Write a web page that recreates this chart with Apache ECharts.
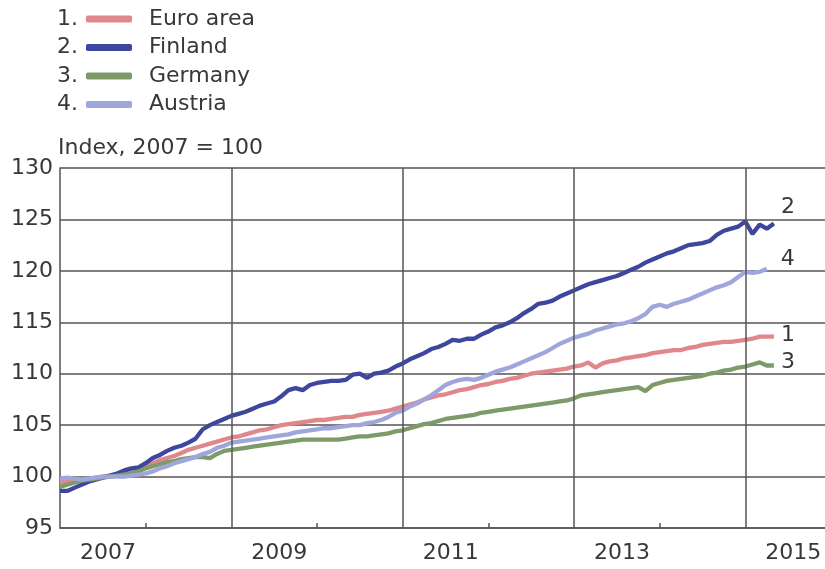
<!DOCTYPE html>
<html><head><meta charset="utf-8">
<script src="https://cdn.jsdelivr.net/npm/echarts@6/dist/echarts.min.js"></script>
<style>html,body{margin:0;padding:0;background:#fff}#c{width:825px;height:569px}</style>
</head><body><div id="c"></div><script>
const startYear = 2007; // first monthly observation: January 2007
const seriesNames = ['Euro area', 'Finland', 'Germany', 'Austria'];
const seriesNumbers = ['1', '2', '3', '4'];
const seriesColors = ['#e0878c', '#3e479d', '#7e9a69', '#9ea6db'];
const titleText = 'Index, 2007 = 100';
const yMin = 95, yMax = 130, yStep = 5;
const xLabelYears = [2007, 2009, 2011, 2013, 2015];
const xGridYears = [2009, 2011, 2013, 2015];
const xTickYears = [2008, 2010, 2012, 2014];

const euroArea = [99.4,99.5,99.6,99.7,99.8,99.9,100.0,100.1,100.2,100.3,
100.5,100.7,101.0,101.3,101.6,101.8,102.0,102.3,102.6,102.8,
103.0,103.2,103.4,103.6,103.8,103.9,104.1,104.3,104.5,104.6,
104.8,105.0,105.1,105.2,105.3,105.4,105.5,105.5,105.6,105.7,
105.8,105.8,106.0,106.1,106.2,106.3,106.4,106.6,106.8,107.0,
107.2,107.5,107.7,107.9,108.0,108.2,108.4,108.5,108.7,108.9,
109.0,109.2,109.3,109.5,109.6,109.8,110.0,110.1,110.2,110.3,
110.4,110.5,110.7,110.8,111.1,110.6,111.0,111.2,111.3,111.5,
111.6,111.7,111.8,112.0,112.1,112.2,112.3,112.3,112.5,112.6,
112.8,112.9,113.0,113.1,113.1,113.2,113.3,113.4,113.6,113.6,113.6];

const finland = [98.6,98.6,98.9,99.2,99.5,99.7,99.9,100.1,100.3,100.6,
100.8,100.9,101.3,101.8,102.1,102.5,102.8,103.0,103.3,103.7,
104.6,105.0,105.3,105.6,105.9,106.1,106.3,106.6,106.9,107.1,
107.3,107.8,108.4,108.6,108.4,108.9,109.1,109.2,109.3,109.3,
109.4,109.9,110.0,109.6,110.0,110.1,110.3,110.7,111.0,111.4,
111.7,112.0,112.4,112.6,112.9,113.3,113.2,113.4,113.4,113.8,
114.1,114.5,114.7,115.0,115.4,115.9,116.3,116.8,116.9,117.1,
117.5,117.8,118.1,118.4,118.7,118.9,119.1,119.3,119.5,119.8,
120.1,120.4,120.8,121.1,121.4,121.7,121.9,122.2,122.5,122.6,
122.7,122.9,123.5,123.9,124.1,124.3,124.8,123.6,124.5,124.1,124.6];

const germany = [99.0,99.2,99.4,99.6,99.7,99.8,99.9,100.0,100.1,100.2,
100.3,100.5,100.8,101.0,101.2,101.4,101.5,101.7,101.8,101.9,
101.9,101.8,102.2,102.5,102.6,102.7,102.8,102.9,103.0,103.1,
103.2,103.3,103.4,103.5,103.6,103.6,103.6,103.6,103.6,103.6,
103.7,103.8,103.9,103.9,104.0,104.1,104.2,104.4,104.5,104.7,
104.9,105.1,105.2,105.4,105.6,105.7,105.8,105.9,106.0,106.2,
106.3,106.4,106.5,106.6,106.7,106.8,106.9,107.0,107.1,107.2,
107.3,107.4,107.6,107.9,108.0,108.1,108.2,108.3,108.4,108.5,
108.6,108.7,108.3,108.9,109.1,109.3,109.4,109.5,109.6,109.7,
109.8,110.0,110.1,110.3,110.4,110.6,110.7,110.9,111.1,110.8,110.8];

const austria = [99.8,99.9,99.8,99.7,99.8,99.9,100.0,100.0,100.0,100.0,
100.1,100.2,100.3,100.5,100.8,101.0,101.3,101.5,101.7,101.9,
102.2,102.4,102.8,103.0,103.3,103.4,103.5,103.6,103.7,103.8,
103.9,104.0,104.1,104.3,104.4,104.5,104.6,104.7,104.7,104.8,
104.9,105.0,105.0,105.2,105.3,105.5,105.8,106.2,106.4,106.8,
107.1,107.5,107.9,108.4,108.9,109.2,109.4,109.5,109.4,109.6,
109.9,110.2,110.4,110.6,110.9,111.2,111.5,111.8,112.1,112.5,
112.9,113.2,113.5,113.7,113.9,114.2,114.4,114.6,114.8,114.9,
115.1,115.4,115.8,116.5,116.7,116.5,116.8,117.0,117.2,117.5,
117.8,118.1,118.4,118.6,118.9,119.4,119.9,119.8,119.9,120.2];

const seriesValues = [euroArea, finland, germany, austria];

const FONT = 'DejaVu Sans';
const TEXT = '#383838';
const GRID = '#555555';
const endOffsets = [[-1, -1], [-1, -16], [-1, -3], [6, -10]];

const chart = echarts.init(document.getElementById('c'));
const toPoints = arr => arr.map((v, i) => [startYear + i / 12, v]);

const series = seriesNames.map((name, k) => {
  const s = {
    name: name,
    type: 'line',
    data: toPoints(seriesValues[k]),
    showSymbol: false,
    symbol: 'none',
    color: seriesColors[k],
    lineStyle: { width: 4.3, color: seriesColors[k] },
    animation: false,
    endLabel: {
      show: true,
      formatter: seriesNumbers[k],
      offset: endOffsets[k],
      fontSize: 22,
      fontFamily: FONT,
      color: TEXT
    }
  };
  if (k === 0) {
    s.markLine = {
      silent: true,
      symbol: ['none', 'none'],
      label: { show: false },
      lineStyle: { color: GRID, width: 1.5, type: 'solid' },
      data: xGridYears.map(y => ({ xAxis: y })),
      animation: false
    };
  }
  return s;
});

const rowH = 28.5, legendTop = 8;
const graphics = seriesNumbers.map((n, k) => ({
  type: 'text',
  x: 57,
  y: legendTop + 11 + k * rowH,
  style: { text: n + '.', font: '22px ' + FONT, fill: TEXT, verticalAlign: 'middle' }
}));

chart.setOption({
  animation: false,
  backgroundColor: '#ffffff',
  title: {
    text: titleText, left: 58, top: 137, padding: 0,
    textStyle: { fontSize: 22, fontWeight: 'normal', color: TEXT, fontFamily: FONT }
  },
  legend: {
    data: seriesNames, orient: 'vertical', left: 86, top: legendTop, padding: 0,
    itemWidth: 46, itemHeight: 7, itemGap: 6.5, icon: 'roundRect', selectedMode: false,
    textStyle: { fontSize: 22, color: TEXT, fontFamily: FONT, lineHeight: 22, padding: [0, 0, 0, 12] }
  },
  graphic: graphics,
  grid: { left: 60, right: 0, top: 168, bottom: 41, containLabel: false },
  xAxis: {
    type: 'value', min: 2007, max: 2015.93,
    axisLine: { show: true, onZero: false, lineStyle: { color: GRID, width: 1.5 } },
    axisTick: { show: true, inside: true, length: 5, customValues: xTickYears, lineStyle: { color: GRID, width: 1.5 } },
    axisLabel: {
      customValues: xLabelYears.map(y => y + 0.56),
      formatter: v => String(Math.floor(v)),
      fontSize: 22, color: TEXT, fontFamily: FONT, margin: 14
    },
    splitLine: { show: false }
  },
  yAxis: {
    type: 'value', min: yMin, max: yMax, interval: yStep,
    axisLine: { show: true, lineStyle: { color: GRID, width: 1.5 } },
    axisTick: { show: false },
    axisLabel: { fontSize: 22, color: TEXT, fontFamily: FONT, margin: 7 },
    splitLine: { show: true, lineStyle: { color: GRID, width: 1.5 } }
  },
  series: series
});
</script></body></html>
